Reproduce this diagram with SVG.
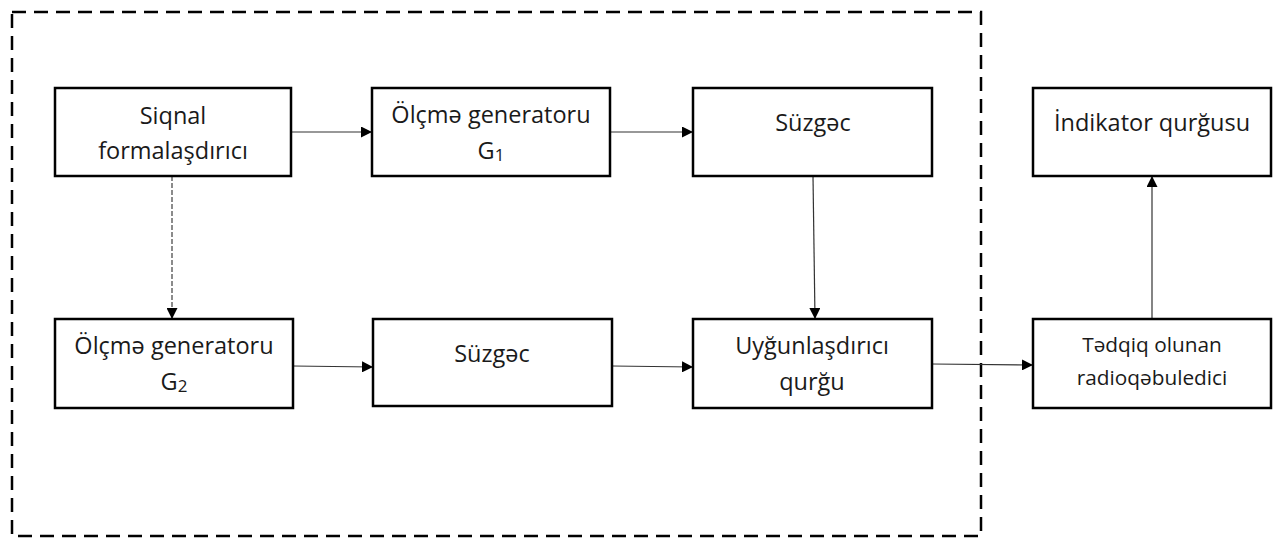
<svg xmlns="http://www.w3.org/2000/svg" width="1278" height="538" viewBox="0 0 1278 538">
<defs>
<style>
.box{fill:#fff;stroke:#000;stroke-width:2.5}
.t{font-family:"Open Sans","Liberation Sans",sans-serif;font-size:23.5px;fill:#1a1a1a;text-anchor:middle}
.ts{font-family:"Open Sans","Liberation Sans",sans-serif;font-size:20.8px;fill:#1a1a1a;text-anchor:middle}
.sub{font-size:17px}
.c{stroke:#333;stroke-width:1.2;fill:none}
.cd{stroke:#666;stroke-width:1.5;fill:none;stroke-dasharray:5 2}
.frame{fill:none;stroke:#000;stroke-width:2.5;stroke-dasharray:14 8}
</style>
<marker id="ah" viewBox="0 0 10 10" refX="10" refY="5" markerWidth="11" markerHeight="11" markerUnits="userSpaceOnUse" orient="auto">
<path d="M0,0 L10,5 L0,10 z" fill="#000"/>
</marker>
</defs>
<rect width="1278" height="538" fill="#fff"/>
<rect class="frame" x="12" y="12" width="969" height="524"/>
<g id="connectors">
<line class="c" x1="291" y1="132" x2="372" y2="132" marker-end="url(#ah)"/>
<line class="c" x1="610" y1="132" x2="693" y2="132" marker-end="url(#ah)"/>
<line class="c" x1="813" y1="176" x2="815" y2="319" marker-end="url(#ah)"/>
<line class="cd" x1="172" y1="176" x2="172" y2="319" marker-end="url(#ah)"/>
<line class="c" x1="293" y1="366" x2="373" y2="367" marker-end="url(#ah)"/>
<line class="c" x1="612" y1="366" x2="693" y2="367" marker-end="url(#ah)"/>
<line class="c" x1="932" y1="364" x2="1033" y2="365" marker-end="url(#ah)"/>
<line class="c" x1="1152" y1="319" x2="1152" y2="176" marker-end="url(#ah)"/>
</g>
<g id="n-siqnal">
<rect class="box" x="55" y="88" width="236" height="88"/>
<text class="t" x="173" y="124">Siqnal</text>
<text class="t" x="173" y="159">formalaşdırıcı</text>
</g>
<g id="n-g1">
<rect class="box" x="372" y="88" width="238" height="88"/>
<text class="t" x="491" y="123">Ölçmə generatoru</text>
<text class="t" x="491" y="159">G<tspan class="sub" dy="2">1</tspan></text>
</g>
<g id="n-suzgec1">
<rect class="box" x="693" y="88" width="239" height="88"/>
<text class="t" x="813" y="131">Süzgəc</text>
</g>
<g id="n-indikator">
<rect class="box" x="1033" y="88" width="238" height="88"/>
<text class="t" x="1152" y="131">İndikator qurğusu</text>
</g>
<g id="n-g2">
<rect class="box" x="55" y="319" width="238" height="89"/>
<text class="t" x="174" y="354">Ölçmə generatoru</text>
<text class="t" x="174" y="390">G<tspan class="sub" dy="2">2</tspan></text>
</g>
<g id="n-suzgec2">
<rect class="box" x="373" y="319" width="239" height="87"/>
<text class="t" x="492" y="362">Süzgəc</text>
</g>
<g id="n-uygun">
<rect class="box" x="693" y="319" width="239" height="89"/>
<text class="t" x="812" y="354">Uyğunlaşdırıcı</text>
<text class="t" x="812" y="390">qurğu</text>
</g>
<g id="n-tedqiq">
<rect class="box" x="1033" y="319" width="238" height="89"/>
<text class="ts" x="1152" y="352">Tədqiq olunan</text>
<text class="ts" x="1152" y="385">radioqəbuledici</text>
</g>
</svg>
